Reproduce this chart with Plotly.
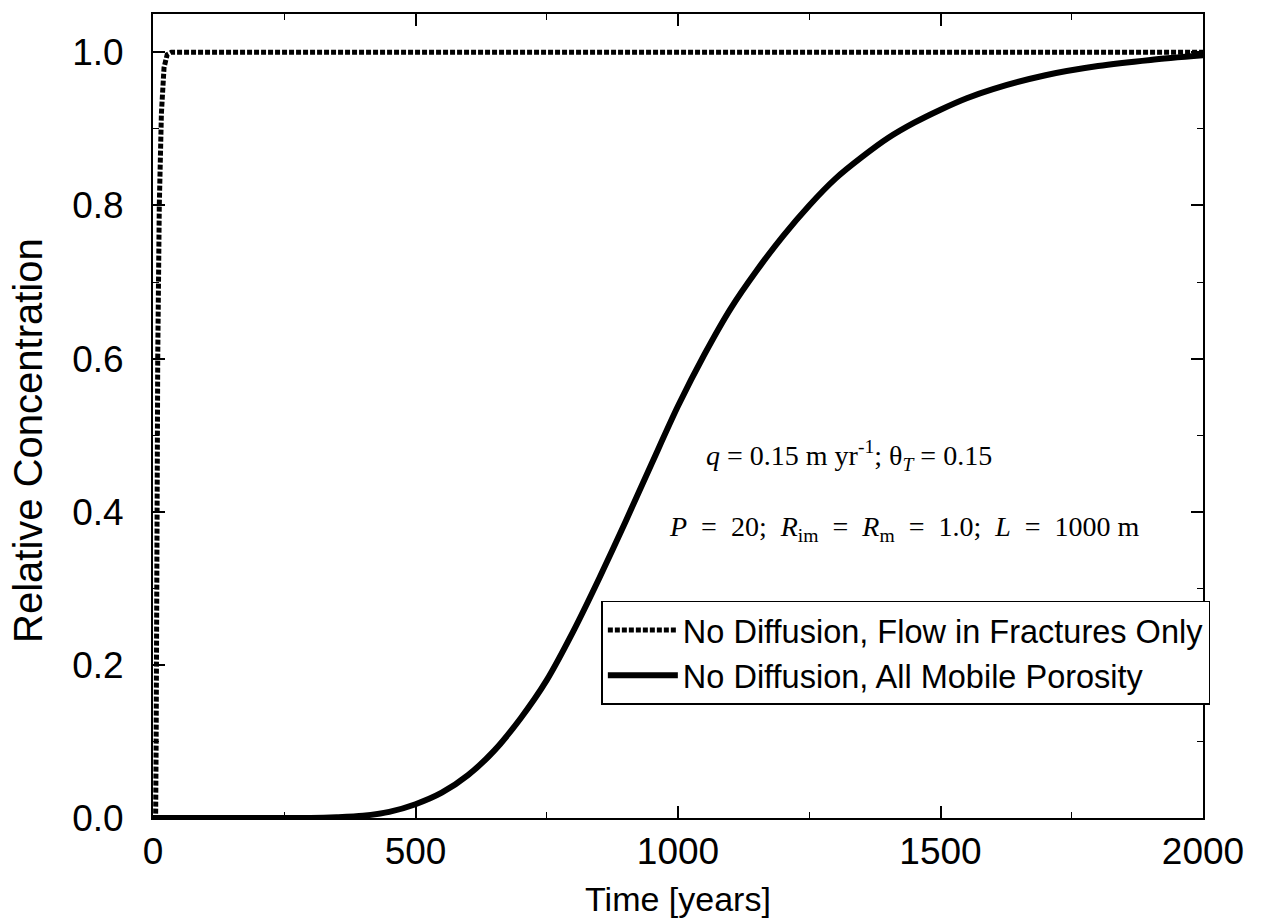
import plotly.graph_objects as go

# Data
t_frac = [0, 5, 6, 7, 9, 12, 16, 21, 27, 35, 2000]
c_frac = [0, 0, 0.1, 0.35, 0.6, 0.8, 0.92, 0.98, 0.997, 1.0, 1.0]

t_mob = [0, 100, 200, 300, 350, 400, 450, 500, 550, 600, 650, 700, 750, 800, 850,
         900, 950, 1000, 1050, 1100, 1150, 1200, 1250, 1300, 1350, 1400, 1450,
         1500, 1550, 1600, 1700, 1800, 1900, 2000]
c_mob = [0, 0, 0, 0, 0.001, 0.003, 0.008, 0.018, 0.033, 0.056, 0.088, 0.13, 0.18,
         0.243, 0.313, 0.387, 0.463, 0.538, 0.605, 0.665, 0.715, 0.76, 0.80, 0.835,
         0.863, 0.888, 0.908, 0.925, 0.94, 0.952, 0.97, 0.982, 0.99, 0.996]

name_frac = "No Diffusion, Flow in Fractures Only"
name_mob = "No Diffusion, All Mobile Porosity"

x_ticks = [0, 500, 1000, 1500, 2000]
y_ticks = [0.0, 0.2, 0.4, 0.6, 0.8, 1.0]
y_labels = ["0.0", "0.2", "0.4", "0.6", "0.8", "1.0"]

fig = go.Figure()
fig.add_trace(go.Scatter(x=t_frac, y=c_frac, mode="lines", name=name_frac,
                         line=dict(color="black", width=5, dash="5px,2px")))
fig.add_trace(go.Scatter(x=t_mob, y=c_mob, mode="lines", name=name_mob,
                         line=dict(color="black", width=6, shape="spline", smoothing=0.8)))

sans = "Liberation Sans, Arial, Helvetica, sans-serif"
serif = "Liberation Serif, Times New Roman, serif"

fig.update_layout(
    width=1282, height=924,
    margin=dict(l=153, r=79, t=14, b=104),
    paper_bgcolor="white", plot_bgcolor="white",
    font=dict(family=sans, color="black"),
    showlegend=True,
    legend=dict(x=0.427, y=0.27, xanchor="left", yanchor="top",
                bgcolor="white", bordercolor="black", borderwidth=1.5,
                font=dict(family=sans, size=32.5, color="black"),
                itemwidth=70, tracegroupgap=0),
    xaxis=dict(range=[0, 2000], tickmode="array", tickvals=x_ticks,
               ticks="inside", ticklen=12, tickwidth=1.5, tickcolor="black",
               showline=True, linecolor="black", linewidth=2, mirror="ticks",
               showgrid=False, zeroline=False,
               tickfont=dict(size=37, family=sans),
               minor=dict(dtick=250, ticks="inside", ticklen=6, tickwidth=1.2, tickcolor="black"),
               title=dict(text="Time [years]", font=dict(size=34, family=sans), standoff=16)),
    yaxis=dict(range=[0, 1.05], tickmode="array", tickvals=y_ticks, ticktext=y_labels,
               ticks="inside", ticklen=12, tickwidth=1.5, tickcolor="black",
               showline=True, linecolor="black", linewidth=2, mirror="ticks",
               showgrid=False, zeroline=False, ticklabelstandoff=20,
               tickfont=dict(size=37, family=sans),
               minor=dict(dtick=0.1, ticks="inside", ticklen=6, tickwidth=1.2, tickcolor="black")),
)

fig.add_annotation(x=-0.119, y=0.469, xref="paper", yref="paper", showarrow=False,
                   text="Relative Concentration", textangle=-90,
                   xanchor="center", yanchor="middle",
                   font=dict(family=sans, size=40, color="black"))
fig.add_annotation(x=1325, y=0.473, xref="x", yref="y", showarrow=False,
                   text="<i>q</i> = 0.15 m yr<sup>-1</sup>; θ<sub><i>T</i></sub> = 0.15",
                   font=dict(family=serif, size=28, color="black"))
fig.add_annotation(x=1432, y=0.378, xref="x", yref="y", showarrow=False,
                   text="<i>P</i>&nbsp; = &nbsp;20; &nbsp;<i>R</i><sub>im</sub>&nbsp; = &nbsp;<i>R</i><sub>m</sub>&nbsp; = &nbsp;1.0; &nbsp;<i>L</i>&nbsp; = &nbsp;1000 m",
                   font=dict(family=serif, size=28, color="black"))

fig.write_html("out.html")
